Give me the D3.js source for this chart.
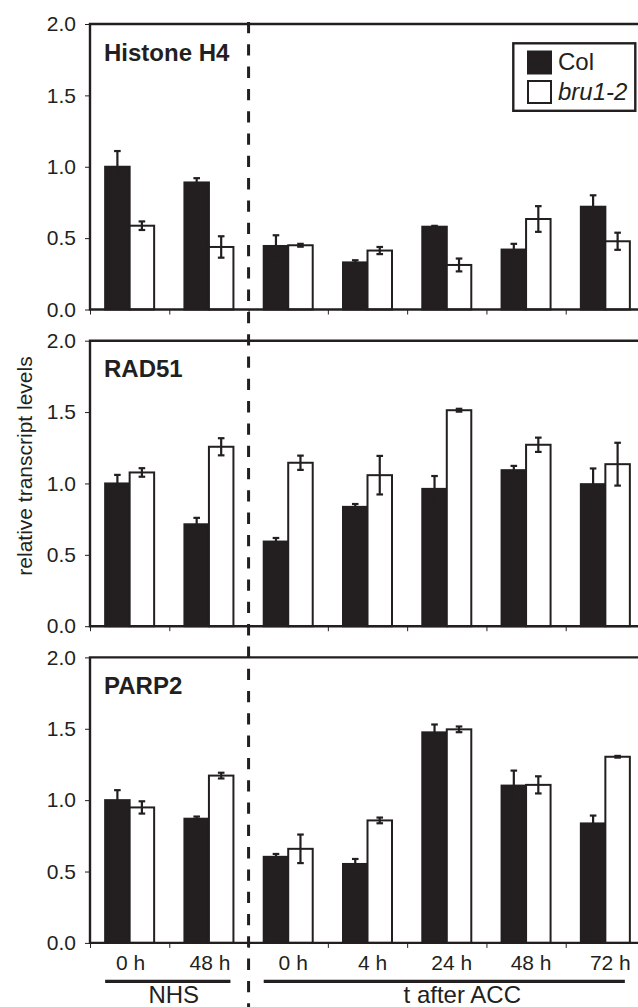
<!DOCTYPE html>
<html>
<head>
<meta charset="utf-8">
<script src="https://cdn.jsdelivr.net/npm/d3@7"></script>
<style>
  body { margin: 0; background: #fff; }
  svg { display: block; font-family: "Liberation Sans", Arial, sans-serif; }
</style>
</head>
<body>
<div id="chart"></div>
<script>
var WD = 638, HT = 1007
var ink = "#231f20"

// x categories (time points) and group labels
var timeLabels = ["0 h", "48 h", "0 h", "4 h", "24 h", "48 h", "72 h"]
var groupNames = ["NHS", "t after ACC"]
var groupStart = [0, 2]
var groupEnd = [1, 6]
var seriesNames = ["Col", "bru1-2"]
var yTicks = [0, 0.5, 1.0, 1.5, 2.0]

var genes = ["Histone H4", "RAD51", "PARP2"]

var colH4 = [1.00, 0.89, 0.445, 0.33, 0.58, 0.42, 0.72]
var colH4Err = [0.11, 0.03, 0.075, 0.015, 0.006, 0.04, 0.08]
var bruH4 = [0.587, 0.438, 0.45, 0.413, 0.312, 0.634, 0.478]
var bruH4Err = [0.03, 0.075, 0.01, 0.025, 0.045, 0.09, 0.06]

var colRAD51 = [1.00, 0.714, 0.593, 0.836, 0.962, 1.093, 0.995]
var colRAD51Err = [0.06, 0.045, 0.025, 0.02, 0.09, 0.03, 0.11]
var bruRAD51 = [1.077, 1.257, 1.145, 1.058, 1.513, 1.271, 1.135]
var bruRAD51Err = [0.03, 0.06, 0.05, 0.135, 0.01, 0.05, 0.15]

var colPARP2 = [1.00, 0.87, 0.603, 0.553, 1.475, 1.102, 0.837]
var colPARP2Err = [0.07, 0.015, 0.02, 0.035, 0.055, 0.105, 0.055]
var bruPARP2 = [0.949, 1.172, 0.659, 0.858, 1.496, 1.107, 1.304]
var bruPARP2Err = [0.043, 0.02, 0.1, 0.02, 0.02, 0.06, 0.006]

var panelData = [
  { gene: genes[0], col: colH4, colErr: colH4Err, bru: bruH4, bruErr: bruH4Err },
  { gene: genes[1], col: colRAD51, colErr: colRAD51Err, bru: bruRAD51, bruErr: bruRAD51Err },
  { gene: genes[2], col: colPARP2, colErr: colPARP2Err, bru: bruPARP2, bruErr: bruPARP2Err }
]

var left = 90, right = 645
var panelTop = 24, panelH = 285.5, panelStep = 316.7

var svg = d3.select("#chart").append("svg")
    .attr("width", WD)
    .attr("height", HT)

var idx = d3.range(timeLabels.length)
var x0 = d3.scaleBand().domain(idx).range([left, right]).padding(0)
var x1 = d3.scaleBand().domain(seriesNames).range([0, x0.bandwidth()]).paddingInner(0).paddingOuter(0.618)
var xb = d3.scaleLinear().domain([0, timeLabels.length]).range([left, right])

panelData.forEach(function(p, k) {
  var top = panelTop + k * panelStep
  var bottom = top + panelH
  var y = d3.scaleLinear().domain([0, 2]).range([bottom, top])
  var g = svg.append("g")

  var rows = idx.map(function(i) {
    return [
      { i: i, s: seriesNames[0], v: p.col[i], e: p.colErr[i], fill: ink },
      { i: i, s: seriesNames[1], v: p.bru[i], e: p.bruErr[i], fill: "#fff" }
    ]
  })
  var flat = d3.merge(rows)

  // bars
  g.selectAll("rect.bar").data(flat).enter().append("rect")
      .attr("class", "bar")
      .attr("x", function(d) { return x0(d.i) + x1(d.s) })
      .attr("y", function(d) { return y(d.v) })
      .attr("width", x1.bandwidth())
      .attr("height", function(d) { return y(0) - y(d.v) })
      .attr("fill", function(d) { return d.fill })
      .attr("stroke", ink)
      .attr("stroke-width", 2)

  // error bars
  var eb = g.selectAll("g.err").data(flat).enter().append("g")
      .attr("class", "err")
      .attr("stroke", ink)
      .attr("stroke-width", 2.2)
  eb.append("line")
      .attr("x1", function(d) { return x0(d.i) + x1(d.s) + x1.bandwidth() / 2 })
      .attr("x2", function(d) { return x0(d.i) + x1(d.s) + x1.bandwidth() / 2 })
      .attr("y1", function(d) { return y(d.v - d.e) })
      .attr("y2", function(d) { return y(d.v + d.e) })
  ;[-1, 1].forEach(function(sg) {
    eb.append("line")
        .attr("x1", function(d) { return x0(d.i) + x1(d.s) + x1.bandwidth() / 2 - 3.3 })
        .attr("x2", function(d) { return x0(d.i) + x1(d.s) + x1.bandwidth() / 2 + 3.3 })
        .attr("y1", function(d) { return y(d.v + sg * d.e) })
        .attr("y2", function(d) { return y(d.v + sg * d.e) })
  })

  // y axis
  var ya = g.append("g")
      .attr("transform", "translate(" + left + ",0)")
      .call(d3.axisLeft(y).tickValues(yTicks).tickFormat(d3.format(".1f")).tickSize(5).tickSizeOuter(0).tickPadding(9))
  ya.select(".domain").remove()
  ya.selectAll("text").attr("font-size", 21).attr("fill", ink).attr("font-family", "Liberation Sans, Arial, sans-serif")
  ya.selectAll("line").attr("stroke", ink)

  // boundary ticks on x axis
  var xa = g.append("g")
      .attr("transform", "translate(0," + bottom + ")")
      .call(d3.axisBottom(xb).tickValues(d3.range(timeLabels.length + 1)).tickFormat("").tickSize(5).tickSizeOuter(0))
  xa.select(".domain").remove()
  xa.selectAll("line").attr("stroke", ink)

  // frame
  g.append("path")
      .attr("d", "M" + WD + "," + top + "H" + left + "V" + bottom + "H" + WD)
      .attr("fill", "none")
      .attr("stroke", ink)
      .attr("stroke-width", 2.4)

  g.append("text")
      .attr("x", left + 14)
      .attr("y", top + 36.5)
      .attr("font-size", 24)
      .attr("font-weight", "bold")
      .attr("fill", ink)
      .text(p.gene)

  if (k === panelData.length - 1) {
    var la = g.append("g")
        .attr("transform", "translate(0," + bottom + ")")
        .call(d3.axisBottom(x0).tickFormat(function(i) { return timeLabels[i] }).tickSize(0).tickPadding(12))
    la.select(".domain").remove()
    la.selectAll("text")
        .attr("font-size", 21)
        .attr("fill", ink)
        .attr("font-family", "Liberation Sans, Arial, sans-serif")
        .attr("dx", function(i) { return i < 2 ? 1 : 5 })

    groupNames.forEach(function(name, j) {
      var a = x0(groupStart[j]) + x1(seriesNames[0])
      var b = x0(groupEnd[j]) + x1(seriesNames[1]) + x1.bandwidth() - (j === 0 ? 3 : 5)
      g.append("line")
          .attr("x1", a).attr("x2", b)
          .attr("y1", 981.3).attr("y2", 981.3)
          .attr("stroke", ink)
          .attr("stroke-width", 3.2)
      g.append("text")
          .attr("x", (a + b) / 2 + (j === 0 ? 6 : 18))
          .attr("y", 1003)
          .attr("text-anchor", "middle")
          .attr("font-size", 24)
          .attr("fill", ink)
          .text(name)
    })
  }

  if (k === 0) {
    var lg = g.append("g")
    lg.append("rect")
        .attr("x", 513.3).attr("y", 43.3)
        .attr("width", 122).attr("height", 67.5)
        .attr("fill", "#fff").attr("stroke", ink).attr("stroke-width", 2.4)
    seriesNames.forEach(function(s, j) {
      lg.append("rect")
          .attr("x", 528).attr("y", 51.5 + j * 29.5)
          .attr("width", 23).attr("height", 22)
          .attr("fill", j === 0 ? ink : "#fff")
          .attr("stroke", ink).attr("stroke-width", 2)
      lg.append("text")
          .attr("x", 558).attr("y", 69.5 + j * 30)
          .attr("font-size", 24)
          .attr("font-style", j === 1 ? "italic" : "normal")
          .attr("fill", ink)
          .text(s)
    })
  }
})

// dashed divider between NHS and ACC
svg.append("line")
    .attr("x1", x0(2)).attr("x2", x0(2))
    .attr("y1", panelTop - 2).attr("y2", HT)
    .attr("stroke", ink)
    .attr("stroke-width", 3)
    .attr("stroke-dasharray", "11.3,11")

// y title
svg.append("text")
    .attr("transform", "translate(32,466) rotate(-90)")
    .attr("text-anchor", "middle")
    .attr("font-size", 21)
    .attr("fill", ink)
    .text("relative transcript levels")
</script>
</body>
</html>
